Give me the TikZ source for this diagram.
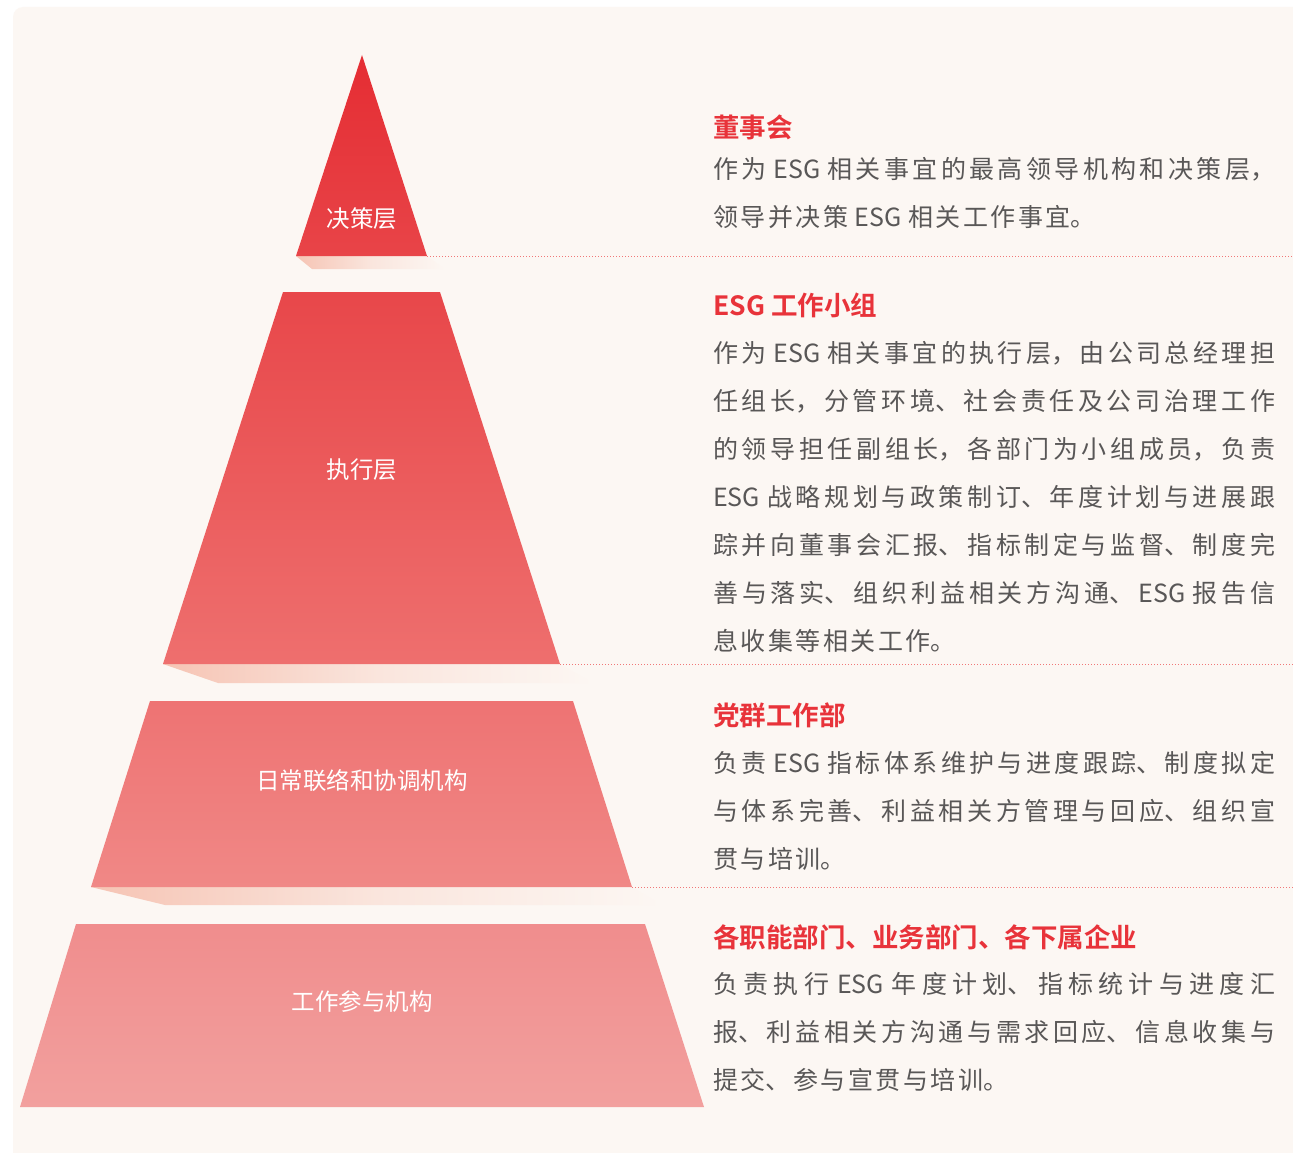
\documentclass[tikz,border=0pt]{standalone}
\usepackage{fontspec}
\usepackage{tikz}
\setmainfont{Noto Sans CJK SC}[BoldFont={Noto Sans CJK SC Bold}]
\newfontfamily\bodyfont{Noto Sans CJK SC}
\XeTeXlinebreaklocale "zh"
\XeTeXlinebreakskip=2.5pt plus 2pt minus 1pt
\definecolor{sred}   {RGB}{232,51,58}
\definecolor{sgray}  {RGB}{89,87,87}
\definecolor{scream} {RGB}{252,247,243}
\definecolor{speach} {RGB}{246,196,180}
\definecolor{sdot}   {RGB}{240,120,120}
\definecolor{lyatop} {RGB}{229,45,51}
\definecolor{lyabot} {RGB}{232,68,72}
\definecolor{lybtop} {RGB}{232,71,74}
\definecolor{lybbot} {RGB}{238,111,110}
\definecolor{lyctop} {RGB}{238,115,115}
\definecolor{lycbot} {RGB}{240,136,134}
\definecolor{lydtop} {RGB}{240,141,141}
\definecolor{lydbot} {RGB}{242,160,158}
\newcommand{\blurb}[1]{\parbox[t]{562pt}{\bodyfont\fontsize{25}{48}\selectfont
    \spaceskip=6.5pt plus 1pt minus 0.5pt #1}}
\tikzset{
    shadow/.style={left color=speach, right color=scream, middle color=speach!35!scream},
    sep/.style={draw=sdot, line width=1pt, dotted},
    tier/.style={text=white, inner sep=0pt, font=\fontsize{23.5}{28}\selectfont},
    head/.style={anchor=base west, inner sep=0pt, text=sred,
             font=\fontsize{26.5}{30}\selectfont\bfseries},
    body/.style={anchor=base west, inner sep=0pt, text=sgray}
  }
\begin{document}
\begin{tikzpicture}[x=1pt, y=-1pt]
 \useasboundingbox (0,0) rectangle (1293,1153);
 \fill[white] (0,0) rectangle (1293,1153);
 \fill[scream, rounded corners=10pt] (13,7) rectangle (1320,1180);
 %Shadows
     \shade[shadow] (296,256) -- (427,256) -- (445,269) -- (312,269) -- cycle;
     \shade[shadow] (163,664) -- (560,664) -- (593,683) -- (218,683) -- cycle;
     \shade[shadow] (91,887) -- (632,887) -- (662,905) -- (165,905) -- cycle;
 %Layer 1
     \shade[top color=lyatop, bottom color=lyabot] (362,55) -- (427,256) -- (296,256) -- cycle;
     \coordinate (ra) at (427,256);
 %Layer 2
     \shade[top color=lybtop, bottom color=lybbot] (283,292) -- (440,292) -- (560,664) -- (163,664) -- cycle;
     \coordinate (rb) at (560,664);
 %Layer 3
     \shade[top color=lyctop, bottom color=lycbot] (150,701) -- (573,701) -- (632,887) -- (91,887) -- cycle;
     \coordinate (rc) at (632,887);
 %Layer 4
     \shade[top color=lydtop, bottom color=lydbot] (76,924) -- (645,924) -- (704,1107) -- (20,1107) -- cycle;
 % dotted separators
     \coordinate (ea) at (1293,256);
     \coordinate (eb) at (1293,664);
     \coordinate (ec) at (1293,887);
     \draw[sep] (ra) -- (ea);
     \draw[sep] (rb) -- (eb);
     \draw[sep] (rc) -- (ec);
 % layer labels
     \node[tier] (decision) at (362,219) {决策层};
     \node[tier] (execution) at (362,470) {执行层};
     \node[tier] (liaison) at (362,781) {日常联络和协调机构};
     \node[tier] (participation) at (362,1002) {工作参与机构};
 % descriptions
     \node[head] (boardhead) at (713,138) {董事会};
     \node[body] (boardtext) at (713,178.5) {\blurb{作为 ESG 相关事宜的最高领导机构和决策层，\linebreak 领导并决策 ESG 相关工作事宜。}};
     \node[head] (grouphead) at (713,315) {ESG 工作小组};
     \node[body] (grouptext) at (713,362.5) {\blurb{作为 ESG 相关事宜的执行层，由公司总经理担\linebreak 任组长，分管环境、社会责任及公司治理工作\linebreak 的领导担任副组长，各部门为小组成员，负责\linebreak ESG 战略规划与政策制订、年度计划与进展跟\linebreak 踪并向董事会汇报、指标制定与监督、制度完\linebreak 善与落实、组织利益相关方沟通、ESG 报告信\linebreak 息收集等相关工作。}};
     \node[head] (parthead) at (713,725) {党群工作部};
     \node[body] (parttext) at (713,772.5) {\blurb{负责 ESG 指标体系维护与进度跟踪、制度拟定\linebreak 与体系完善、利益相关方管理与回应、组织宣\linebreak 贯与培训。}};
     \node[head] (depthead) at (713,947) {各职能部门、业务部门、各下属企业};
     \node[body] (depttext) at (713,993.5) {\blurb{负责执行 ESG 年度计划、指标统计与进度汇\linebreak 报、利益相关方沟通与需求回应、信息收集与\linebreak 提交、参与宣贯与培训。}};
 \end{tikzpicture}
\end{document}
